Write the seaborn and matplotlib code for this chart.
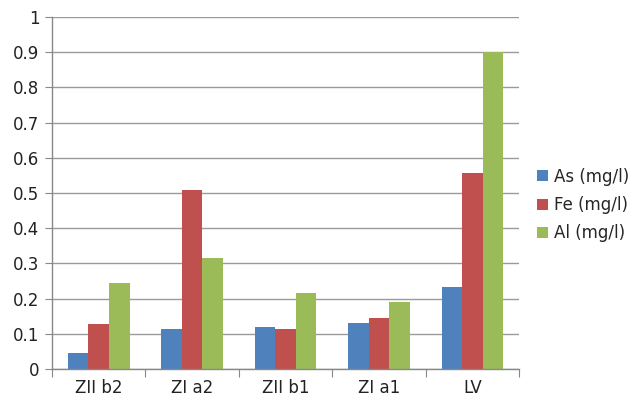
import matplotlib
matplotlib.use("Agg")
import matplotlib.pyplot as plt
import seaborn as sns
import pandas as pd
import numpy as np
from matplotlib.ticker import FixedLocator, NullFormatter

categories = ["ZII b2", "ZI a2", "ZII b1", "ZI a1", "LV"]
series = ["As (mg/l)", "Fe (mg/l)", "Al (mg/l)"]
as_vals = [0.044, 0.114, 0.118, 0.130, 0.233]
fe_vals = [0.128, 0.508, 0.114, 0.145, 0.558]
al_vals = [0.245, 0.316, 0.217, 0.189, 0.900]
colors = ["#4F81BD", "#C0504D", "#9BBB59"]
yticks = [0, 0.1, 0.2, 0.3, 0.4, 0.5, 0.6, 0.7, 0.8, 0.9, 1]
ytick_labels = ["0", "0.1", "0.2", "0.3", "0.4", "0.5", "0.6", "0.7", "0.8", "0.9", "1"]

df = pd.DataFrame({
    "cat": categories * 3,
    "series": [series[0]] * 5 + [series[1]] * 5 + [series[2]] * 5,
    "value": as_vals + fe_vals + al_vals,
})

sns.set_style("white")
plt.rcParams["font.family"] = ["DejaVu Sans"]

fig = plt.figure(figsize=(6.34, 4.05), dpi=100)
ax = fig.add_axes([0.082, 0.089, 0.737, 0.869])
sns.barplot(data=df, x="cat", y="value", hue="series", order=categories,
            hue_order=series, palette=colors, width=0.66, saturation=1,
            ax=ax, errorbar=None, linewidth=0, edgecolor="none")

ax.set_ylim(0, 1)
ax.set_xlim(-0.5, 4.5)
ax.set_yticks(yticks)
ax.set_yticklabels(ytick_labels, fontsize=12, color="#222222")
ax.yaxis.grid(True, color="#9a9a9a", linewidth=1)
ax.set_axisbelow(True)
ax.set_xlabel("")
ax.set_ylabel("")

# category labels at centers, tick marks at boundaries
ax.xaxis.set_major_locator(FixedLocator(np.arange(-0.5, 5.0, 1.0)))
ax.xaxis.set_major_formatter(NullFormatter())
ax.xaxis.set_minor_locator(FixedLocator(np.arange(0, 5)))
ax.set_xticklabels(categories, minor=True, fontsize=12, color="#222222")
ax.tick_params(axis="x", which="major", length=6, direction="out", color="#888888", bottom=True)
ax.tick_params(axis="x", which="minor", length=0, pad=7)
ax.tick_params(axis="y", length=5, direction="out", color="#888888", left=True, pad=4)

for s in ["top", "right"]:
    ax.spines[s].set_visible(False)
for s in ["left", "bottom"]:
    ax.spines[s].set_color("#888888")
    ax.spines[s].set_linewidth(1)

leg = ax.legend(loc="center left", bbox_to_anchor=(1.01, 0.466), frameon=False,
                fontsize=12, handlelength=0.65, handleheight=0.65, handletextpad=0.35,
                labelspacing=0.62, borderpad=0.3)

fig.savefig("out.png", dpi=100)
